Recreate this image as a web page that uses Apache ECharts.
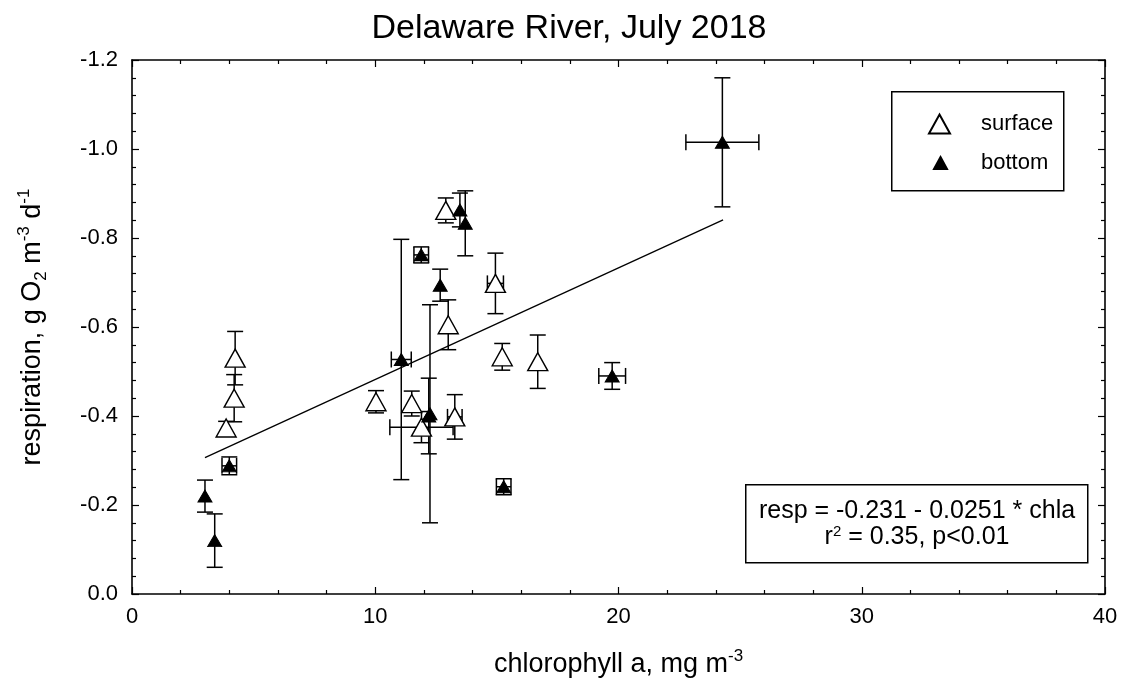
<!DOCTYPE html>
<html>
<head>
<meta charset="utf-8">
<script src="https://cdn.jsdelivr.net/npm/echarts@6/dist/echarts.min.js"></script>
<style>
  html, body { margin: 0; padding: 0; background: #ffffff; }
  #chart { width: 1121px; height: 690px; }
</style>
</head>
<body>
<div id="chart"></div>
<script>
// Surface samples: chlorophyll a (mg m-3), respiration (g O2 m-3 d-1) and their errors
const surfaceChl      = [3.87, 4.20, 4.24, 10.03, 11.50, 11.90, 13.27, 13.00, 12.90, 14.94, 15.22, 16.68];
const surfaceResp     = [-0.373, -0.440, -0.530, -0.432, -0.428, -0.375, -0.398, -0.605, -0.862, -0.698, -0.533, -0.522];
const surfaceChlErr   = [0, 0, 0, 0, 0, 1.30, 0.30, 0, 0, 0.33, 0, 0];
const surfaceRespErr  = [0.015, 0.053, 0.060, 0.025, 0.028, 0.035, 0.050, 0.056, 0.028, 0.068, 0.030, 0.060];

// Bottom samples
const bottomChl       = [3.00, 3.40, 4.00, 11.07, 12.25, 12.20, 12.67, 11.89, 13.48, 13.70, 15.28, 19.74, 24.27];
const bottomResp      = [-0.220, -0.120, -0.288, -0.527, -0.405, -0.400, -0.694, -0.762, -0.863, -0.833, -0.241, -0.490, -1.015];
const bottomChlErr    = [0, 0, 0.30, 0.41, 0, 0, 0, 0.30, 0, 0, 0.30, 0.55, 1.50];
const bottomRespErr   = [0.036, 0.060, 0.020, 0.270, 0.245, 0.085, 0.036, 0.018, 0.038, 0.073, 0.018, 0.030, 0.145];

// Linear fit: resp = intercept + slope * chla, over the sampled chlorophyll range
const fitIntercept = -0.231;
const fitSlope = -0.0251;
const fitChlRange = [3.0, 24.3];

// Axis ranges and tick steps
const xRange = [0, 40], xStep = 10;
const yRange = [-1.2, 0], yStep = 0.2;

const FONT = '"Liberation Sans", Arial, sans-serif';

const surfacePts = surfaceChl.map((x, i) => [x, surfaceResp[i]]);
const bottomPts = bottomChl.map((x, i) => [x, bottomResp[i]]);
const surfaceErr = surfaceChl.map((x, i) => [x, surfaceResp[i], surfaceChlErr[i], surfaceRespErr[i]]);
const bottomErr = bottomChl.map((x, i) => [x, bottomResp[i], bottomChlErr[i], bottomRespErr[i]]);
const fitLine = fitChlRange.map(x => [x, fitIntercept + fitSlope * x]);

// Error bars with caps in both directions
function renderErrorBar(params, api) {
  const x = api.value(0), y = api.value(1), xe = api.value(2), ye = api.value(3);
  const c = api.coord([x, y]);
  const style = { stroke: '#000', lineWidth: 1.5, fill: null };
  const cap = 8;
  const kids = [];
  const seg = (x1, y1, x2, y2) => kids.push({ type: 'line', shape: { x1, y1, x2, y2 }, style });
  if (ye > 0) {
    const t = api.coord([x, y - ye])[1], b = api.coord([x, y + ye])[1];
    seg(c[0], t, c[0], b);
    seg(c[0] - cap, t, c[0] + cap, t);
    seg(c[0] - cap, b, c[0] + cap, b);
  }
  if (xe > 0) {
    const l = api.coord([x - xe, y])[0], r = api.coord([x + xe, y])[0];
    seg(l, c[1], r, c[1]);
    seg(l, c[1] - cap, l, c[1] + cap);
    seg(r, c[1] - cap, r, c[1] + cap);
  }
  return { type: 'group', children: kids };
}

const tickLine = { color: '#000', width: 1.2 };
function frameAxis(extra) {
  return Object.assign({
    type: 'value',
    axisLine: { show: true, onZero: false, lineStyle: { color: '#000', width: 1.6 } },
    axisTick: { show: true, inside: true, length: 7, lineStyle: tickLine },
    minorTick: { show: true, splitNumber: 5, length: 4, lineStyle: tickLine },
    splitLine: { show: false },
    minorSplitLine: { show: false }
  }, extra);
}

const nameRich = {
  sup: { fontSize: 17, fontFamily: FONT, color: '#000', verticalAlign: 'top', lineHeight: 34 },
  sub: { fontSize: 17, fontFamily: FONT, color: '#000', verticalAlign: 'bottom', lineHeight: 34 }
};

const chart = echarts.init(document.getElementById('chart'), null, { renderer: 'canvas' });
chart.setOption({
  backgroundColor: '#ffffff',
  animation: false,
  grid: { left: 132, right: 16, top: 60, bottom: 96, containLabel: false },
  xAxis: [
    frameAxis({
      min: xRange[0], max: xRange[1], interval: xStep, position: 'bottom',
      axisLabel: { color: '#000', fontSize: 22, fontFamily: FONT, margin: 12 },
      name: 'chlorophyll a, mg m{sup|-3}',
      nameLocation: 'middle', nameGap: 54,
      nameTextStyle: { color: '#000', fontSize: 27, fontFamily: FONT, lineHeight: 34, rich: nameRich }
    }),
    frameAxis({ min: xRange[0], max: xRange[1], interval: xStep, position: 'top', axisLabel: { show: false } })
  ],
  yAxis: [
    frameAxis({
      min: yRange[0], max: yRange[1], interval: yStep, inverse: true, position: 'left',
      axisLabel: { color: '#000', fontSize: 22, fontFamily: FONT, margin: 14,
        formatter: v => (Math.abs(v) < 1e-9 ? 0 : v).toFixed(1) },
      name: 'respiration, g O{sub|2} m{sup|-3} d{sup|-1}',
      nameLocation: 'middle', nameRotate: 90, nameGap: 82,
      nameTextStyle: { color: '#000', fontSize: 27, fontFamily: FONT, lineHeight: 34, rich: nameRich }
    }),
    frameAxis({ min: yRange[0], max: yRange[1], interval: yStep, inverse: true, position: 'right', axisLabel: { show: false } })
  ],
  legend: [
    {
      data: ['surface'], orient: 'vertical', left: 928, top: 113,
      itemWidth: 21, itemHeight: 19, padding: 0,
      textStyle: { color: '#000', fontSize: 22, fontFamily: FONT, padding: [0, 0, 0, 26] }
    },
    {
      data: ['bottom'], orient: 'vertical', left: 933, top: 152,
      itemWidth: 13, itemHeight: 12, padding: 0,
      textStyle: { color: '#000', fontSize: 22, fontFamily: FONT, padding: [0, 0, 0, 29] }
    }
  ],
  graphic: [
    {
      type: 'text', x: 569, y: 12,
      style: { text: 'Delaware River, July 2018', fill: '#000', font: '34px ' + FONT, align: 'center', verticalAlign: 'top' }
    },
    {
      type: 'rect', left: 891, top: 91, z: 1,
      shape: { width: 172, height: 99 },
      style: { fill: '#fff', stroke: '#000', lineWidth: 1.5 }
    },
    {
      type: 'rect', left: 745, top: 484, z: 1,
      shape: { width: 342, height: 78 },
      style: { fill: '#fff', stroke: '#000', lineWidth: 1.5 }
    },
    {
      type: 'text', x: 917, y: 524, z: 2,
      style: {
        text: '{base|resp = -0.231 - 0.0251 * chla}\n{base|r}{sup|2}{base| = 0.35, p<0.01}',
        align: 'center', verticalAlign: 'middle', fill: '#000',
        rich: {
          base: { fontSize: 25, fontFamily: FONT, fill: '#000', lineHeight: 26 },
          sup: { fontSize: 15, fontFamily: FONT, fill: '#000', verticalAlign: 'top', lineHeight: 26 }
        }
      }
    }
  ],
  series: [
    {
      name: 'fit', type: 'line', data: fitLine, symbol: 'none', silent: true,
      lineStyle: { color: '#000', width: 1.3 }, z: 2
    },
    {
      name: 'surface-err', type: 'custom', renderItem: renderErrorBar,
      encode: { x: 0, y: 1 }, data: surfaceErr, z: 3, silent: true
    },
    {
      name: 'bottom-err', type: 'custom', renderItem: renderErrorBar,
      encode: { x: 0, y: 1 }, data: bottomErr, z: 3, silent: true
    },
    {
      name: 'surface', type: 'scatter', data: surfacePts,
      symbol: 'triangle', symbolSize: [20, 18],
      itemStyle: { color: '#fff', borderColor: '#000', borderWidth: 1.4, opacity: 1 }, z: 4
    },
    {
      name: 'bottom', type: 'scatter', data: bottomPts,
      symbol: 'triangle', symbolSize: [14, 12],
      itemStyle: { color: '#000', borderColor: '#000', borderWidth: 1, opacity: 1 }, z: 5
    }
  ]
});
</script>
</body>
</html>
